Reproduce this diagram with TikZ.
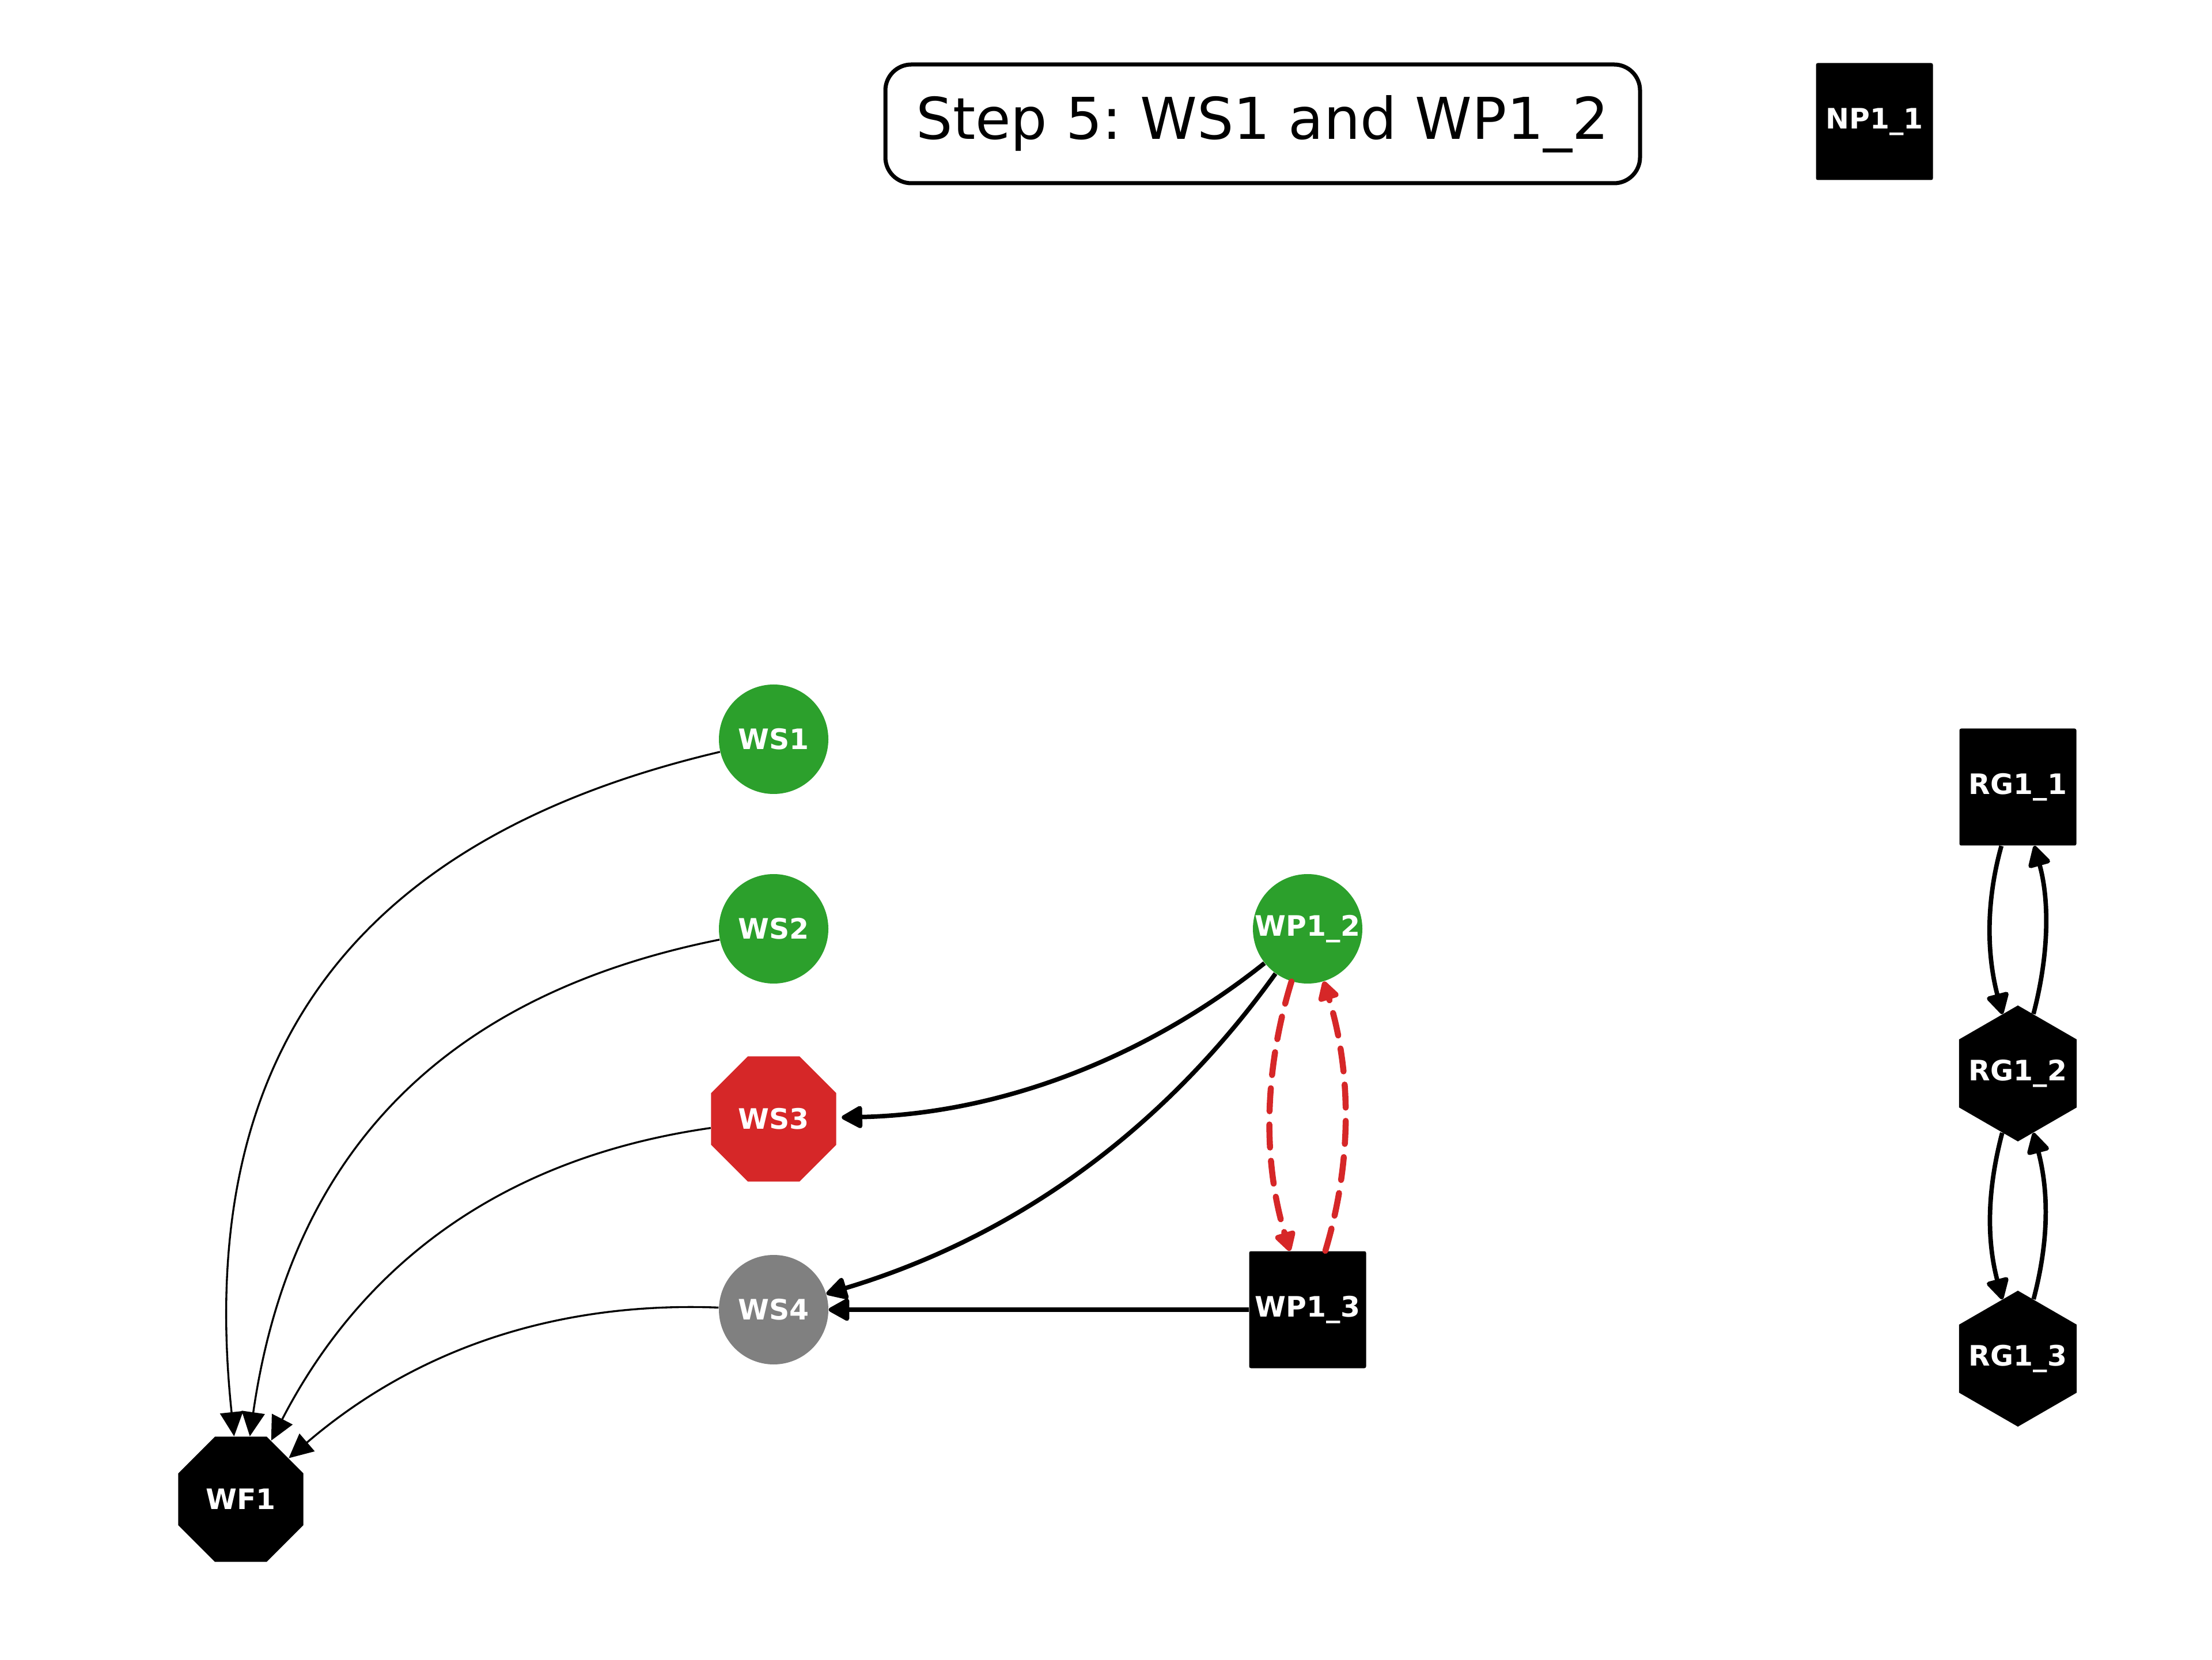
\documentclass[tikz,border=0pt]{standalone}
\usepackage{fontspec}
\setmainfont{DejaVu Sans}
\usetikzlibrary{shapes.geometric, arrows.meta, calc}

\definecolor{tabgreen}{HTML}{2CA02C}
\definecolor{tabred}{HTML}{D62728}
\definecolor{tabgray}{HTML}{808080}

% arc edge like matplotlib arc3 (quadratic from centre to centre),
% drawn only on its visible part between parameters t0 and t1
% #1 style, #2 from, #3 to, #4 rad, #5 t0, #6 t1
\newcommand{\arcedge}[6]{%
  \path ($(#2)!0.5!(#3)!{2*(#4)}!-90:(#3)$) coordinate (ctl);
  \pgfmathsetmacro\ka{2*((#6)-(#5))/3}%
  \pgfmathsetmacro\pa{(1-#5)^2-\ka*(1-#5)}%
  \pgfmathsetmacro\pb{2*#5*(1-#5)+\ka*(1-2*#5)}%
  \pgfmathsetmacro\pc{(#5)^2+\ka*#5}%
  \pgfmathsetmacro\qa{(1-#6)^2+\ka*(1-#6)}%
  \pgfmathsetmacro\qb{2*#6*(1-#6)-\ka*(1-2*#6)}%
  \pgfmathsetmacro\qc{(#6)^2-\ka*#6}%
  \draw[#1] (#2) .. controls ($ {\pa}*(#2) + {\pb}*(ctl) + {\pc}*(#3) $)
                   and ($ {\qa}*(#2) + {\qb}*(ctl) + {\qc}*(#3) $) .. (#3);
}

\tikzset{
  nodebase/.style={text=white, font=\fontsize{13.9}{16}\selectfont\bfseries, inner sep=0pt},
  circnode/.style={nodebase, circle, minimum size=1.90cm},
  sqnode/.style={nodebase, rectangle, minimum size=2.03cm, rounded corners=0.03cm},
  octnode/.style={nodebase, regular polygon, regular polygon sides=8, minimum size=2.35cm},
  hexnode/.style={nodebase, regular polygon, regular polygon sides=6, shape border rotate=90, minimum size=2.36cm},
  edgethin/.style={line width=0.95pt, -{Triangle[length=0.42cm,width=0.40cm]}},
  edgethick/.style={line width=2.2pt, -{Triangle[length=0.40cm,width=0.42cm,round]}},
  edgered/.style={tabred, line width=3pt, line cap=round, dash pattern=on 0.40cm off 0.23cm, -{Triangle[length=0.38cm,width=0.40cm,round]}},
}

\begin{document}
\frenchspacing
\begin{tikzpicture}
\useasboundingbox (0,0) rectangle (38.4,28.8);

% title
\node[draw, line width=2pt, rounded corners=0.45cm, minimum width=13.10cm, minimum height=2.06cm,
      font=\fontsize{28.45}{34}\selectfont, inner sep=0pt] (title) at (21.92,26.65) {Step 5: WS1 and WP1\_2};

% nodes
\node[circnode, fill=tabgreen] (WS1) at (13.43,15.97) {WS1};
\node[circnode, fill=tabgreen] (WS2) at (13.43,12.68) {WS2};
\node[octnode, fill=tabred] (WS3) at (13.43,9.38) {WS3};
\node[circnode, fill=tabgray] (WS4) at (13.43,6.07) {WS4};
\node[circnode, fill=tabgreen] (WP12) at (22.70,12.68) {WP1\_2};
\node[sqnode, fill=black] (WP13) at (22.70,6.07) {WP1\_3};
\node[octnode, fill=black] (WF1) at (4.18,2.78) {WF1};
\node[sqnode, fill=black] (NP11) at (32.54,26.69) {NP1\_1};
\node[sqnode, fill=black] (RG11) at (35.03,15.14) {RG1\_1};
\node[hexnode, fill=black] (RG12) at (35.03,10.17) {\makebox[0pt]{RG1\_2}};
\node[hexnode, fill=black] (RG13) at (35.03,5.22) {\makebox[0pt]{RG1\_3}};

% edges into WF1
\arcedge{edgethin}{WS1}{WF1}{0.5}{0.059}{0.929}
\arcedge{edgethin}{WS2}{WF1}{0.41}{0.070}{0.915}
\arcedge{edgethin}{WS3}{WF1}{0.31}{0.095}{0.899}
\arcedge{edgethin}{WS4}{WF1}{0.24}{0.097}{0.882}

% edges from WP1_2 / WP1_3
\arcedge{edgethick, shorten >=0.09cm}{WP12}{WS3}{-0.2}{0.080}{0.901}
\arcedge{edgethick}{WP12}{WS4}{-0.2}{0.083}{0.915}
\draw[edgethick] (WP13) -- (WS4);

% red dashed pair
\arcedge{edgered}{WP12}{WP13}{0.2}{0.144}{0.847}
\arcedge{edgered}{WP13}{WP12}{0.2}{0.153}{0.856}

% RG chain
\arcedge{edgethick}{RG11}{RG12}{0.2}{0.203}{0.757}
\arcedge{edgethick}{RG12}{RG11}{0.2}{0.240}{0.797}
\arcedge{edgethick}{RG12}{RG13}{0.2}{0.240}{0.757}
\arcedge{edgethick}{RG13}{RG12}{0.2}{0.240}{0.757}
\end{tikzpicture}
\end{document}
